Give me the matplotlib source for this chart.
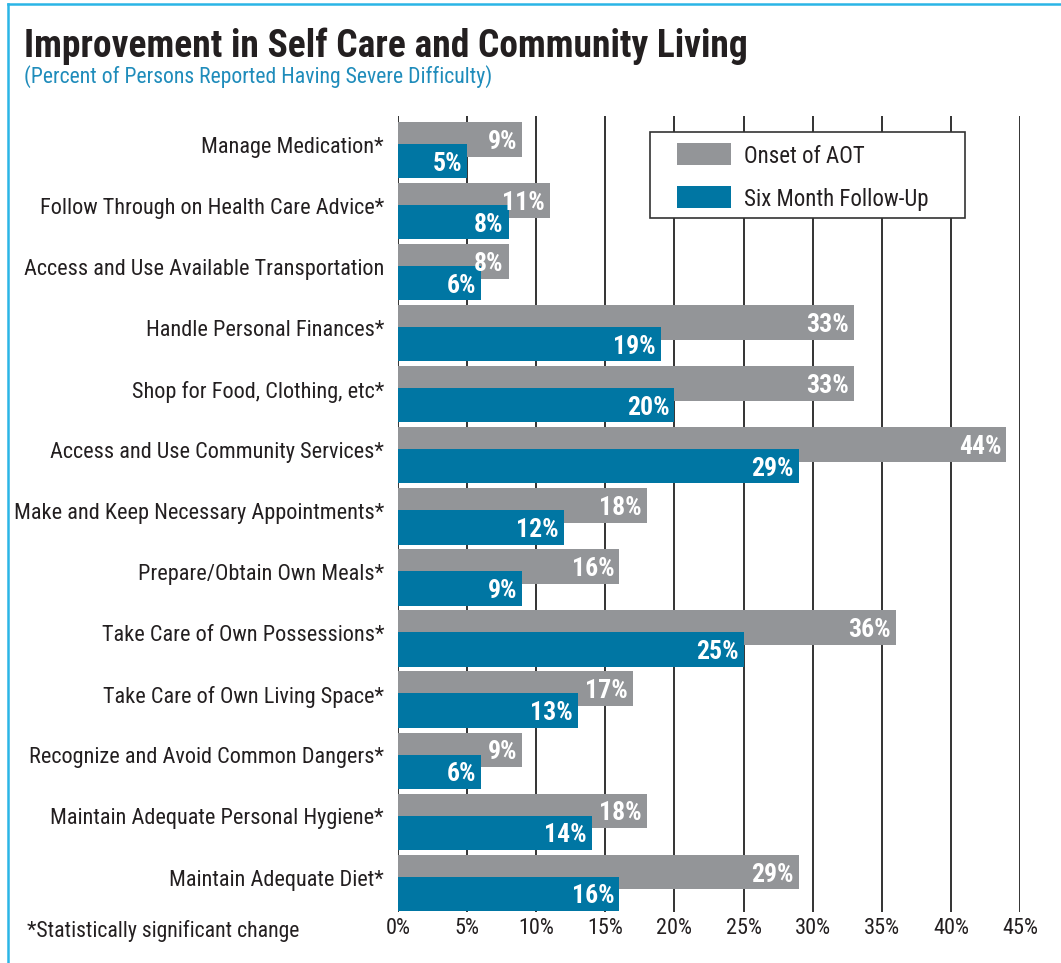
import matplotlib
matplotlib.use("Agg")
import matplotlib.pyplot as plt
from matplotlib.patches import Rectangle
from matplotlib.lines import Line2D
import matplotlib.font_manager as fm

categories = [
    "Manage Medication*",
    "Follow Through on Health Care Advice*",
    "Access and Use Available Transportation",
    "Handle Personal Finances*",
    "Shop for Food, Clothing, etc*",
    "Access and Use Community Services*",
    "Make and Keep Necessary Appointments*",
    "Prepare/Obtain Own Meals*",
    "Take Care of Own Possessions*",
    "Take Care of Own Living Space*",
    "Recognize and Avoid Common Dangers*",
    "Maintain Adequate Personal Hygiene*",
    "Maintain Adequate Diet*",
]
onset = [9, 11, 8, 33, 33, 44, 18, 16, 36, 17, 9, 18, 29]
followup = [5, 8, 6, 19, 20, 29, 12, 9, 25, 13, 6, 14, 16]
xticks = [0, 5, 10, 15, 20, 25, 30, 35, 40, 45]
xticklabels = ["0%", "5%", "10%", "15%", "20%", "25%", "30%", "35%", "40%", "45%"]
series_names = ["Onset of AOT", "Six Month Follow-Up"]

GRAY = "#939598"
BLUE = "#0076a3"
TXT = "#231f20"
SUB = "#1f8cbb"
CYAN = "#2bb5e6"

names = {f.name for f in fm.fontManager.ttflist}
prefs = ["Roboto Condensed", "Archivo Narrow", "PT Sans Narrow", "Liberation Sans Narrow",
         "Barlow Condensed", "Roboto", "DejaVu Sans"]
FAM = [f for f in prefs if f in names] or ["DejaVu Sans"]
plt.rcParams["font.family"] = FAM

W, H = 1061, 963
fig = plt.figure(figsize=(W / 100, H / 100), dpi=100)


def fx(px):
    return px / W


def fy(py):
    return 1 - py / H


fig.add_artist(Line2D([fx(8), 1], [fy(4), fy(4)], color=CYAN, lw=1.8))
fig.add_artist(Line2D([fx(8), fx(8)], [0, fy(4)], color=CYAN, lw=1.8))

fig.text(fx(24), fy(46), "Improvement in Self Care and Community Living",
         fontsize=27, fontweight="bold", color=TXT, va="center", ha="left")
fig.text(fx(24), fy(77), "(Percent of Persons Reported Having Severe Difficulty)",
         fontsize=15.7, color=SUB, va="center", ha="left")
fig.text(fx(27), fy(931), "*Statistically significant change",
         fontsize=15.7, color=TXT, va="center", ha="left")

left, right = fx(398), fx(1020)
top, bottom = fy(116), fy(912)
ax = fig.add_axes([left, bottom, right - left, top - bottom])

ys = list(range(len(categories)))
ax.set_xlim(0, 45)
ax.set_ylim(12.48, -0.56)

for x in xticks:
    ax.axvline(x, color="#333333", lw=1.4, zorder=1)

g_off, b_off = -0.175, 0.18
ax.barh([y + g_off for y in ys], onset, height=0.57, color=GRAY, zorder=2)
ax.barh([y + b_off for y in ys], followup, height=0.56, color=BLUE, zorder=3)

for y, v in zip(ys, onset):
    ax.text(v - 0.35, y + g_off, f"{v}%", ha="right", va="center_baseline", color="white",
            fontsize=18.5, fontweight="bold", zorder=4)
for y, v in zip(ys, followup):
    ax.text(v - 0.35, y + b_off, f"{v}%", ha="right", va="center_baseline", color="white",
            fontsize=18.5, fontweight="bold", zorder=4)

# category labels sit slightly above the centre of each bar pair
ax.set_yticks([y - 0.085 for y in ys])
ax.set_yticklabels(categories, fontsize=16, color=TXT)
ax.set_xticks(xticks)
ax.set_xticklabels(xticklabels, fontsize=16, color=TXT)
ax.tick_params(axis="both", length=0)
ax.tick_params(axis="y", pad=10)
ax.tick_params(axis="x", pad=4)
for s in ax.spines.values():
    s.set_visible(False)

# legend box drawn in figure pixel coordinates
fig.add_artist(Rectangle((fx(650), fy(218)), fx(965) - fx(650), fy(132) - fy(218),
                         facecolor="white", edgecolor="#333333", lw=1.2, zorder=10))
for (col, name, yc) in [(GRAY, series_names[0], 154), (BLUE, series_names[1], 197)]:
    fig.add_artist(Rectangle((fx(677), fy(yc + 11)), fx(731) - fx(677), fy(yc - 11) - fy(yc + 11),
                             facecolor=col, edgecolor="none", zorder=11))
    fig.text(fx(744), fy(yc), name, fontsize=16.5, color=TXT, va="center_baseline",
             ha="left", zorder=12)

fig.savefig("out.png", dpi=100)
